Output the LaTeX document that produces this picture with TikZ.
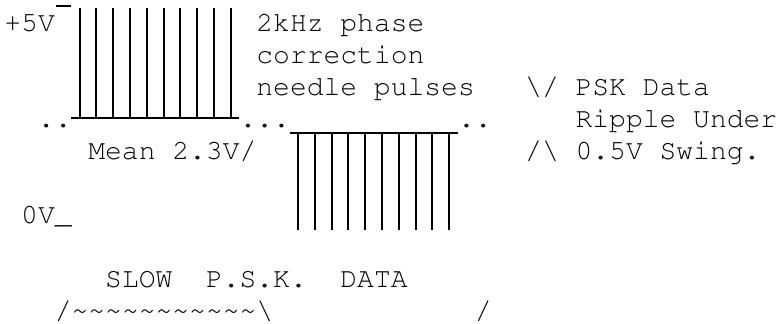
\documentclass[tikz,border=0pt]{standalone}
\usepackage[T1]{fontenc}
\usepackage{courier}
\newcommand\tld{\textasciitilde}
\begin{document}
\begin{tikzpicture}[x=0.5pt,y=-0.5pt,
  txt/.style={font=\fontfamily{pcr}\fontseries{m}\fontsize{14pt}{16pt}\selectfont, anchor=base west, inner sep=0pt, text=black},
  pulse/.style={line width=1.05pt, black},
  rulel/.style={line width=0.8pt, black}]
\useasboundingbox (0,0) rectangle (777,323);
% texts
\node[txt] (t5v) at (4,31) {+5V};
\node[txt] (t2k) at (256,31) {2kHz phase};
\node[txt] (tcor) at (256,63) {correction};
\node[txt] (tneedle) at (256,95) {needle pulses};
\node[txt] (tv) at (524.8,95) {\textbackslash/};
\node[txt] (tpsk) at (575.2,95) {PSK Data};
\node[txt] (tdotsa) at (37.6,127) {..};
\node[txt] (tdotsb) at (239.2,127) {...};
\node[txt] (tdotsc) at (457.6,127) {..};
\node[txt] (tripple) at (575.2,127) {Ripple Under};
\node[txt] (tmean) at (88,159) {Mean 2.3V/};
\node[txt] (tav) at (524.8,159) {/\textbackslash};
\node[txt] (tswing) at (575.2,159) {0.5V Swing.};
\node[txt] (tzero) at (20.8,223) {0V\_};
\node[txt] (tslow) at (104.8,287) {SLOW};
\node[txt] (tpskb) at (205.6,287) {P.S.K.};
\node[txt] (tdata) at (340,287) {DATA};
\node[txt] (ttilde) at (54.4,319) {/\tld\tld\tld\tld\tld\tld\tld\tld\tld\tld\tld\textbackslash};
\node[txt] (tslash) at (474.4,319) {/};
% macron after +5V
\draw[rulel] (55.5,6) -- (71.2,6);
% high pulses
\foreach \c in {4,...,13} {
  \draw[pulse] ({4+16.8*(\c+0.5)},8) -- ({4+16.8*(\c+0.5)},118);
}
\draw[rulel] (71.2,118) -- (239.2,118);
% low pulses
\foreach \c in {17,...,26} {
  \draw[pulse] ({4+16.8*(\c+0.5)},133) -- ({4+16.8*(\c+0.5)},230);
}
\draw[rulel] (289.6,133) -- (457.6,133);
\end{tikzpicture}
\end{document}
